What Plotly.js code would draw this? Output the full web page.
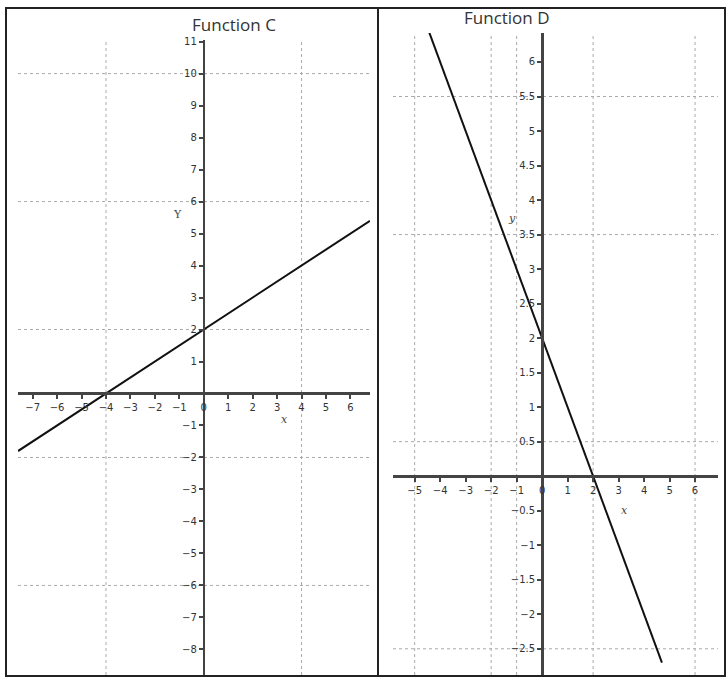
<!DOCTYPE html>
<html>
<head>
<meta charset="utf-8">
<script src="https://cdn.plot.ly/plotly-3.0.1.min.js"></script>
<style>
  html, body { margin: 0; padding: 0; background: #fff; }
  #chart { width: 728px; height: 677px; }
</style>
</head>
<body>
<div id="chart"></div>
<script>
// Function C: y = 0.5x + 2, end points
const cLineX = [-7.6, 6.8];
const cLineY = [-1.8, 5.4];
const cTickX = [-7, -6, -5, -4, -3, -2, -1, 0, 1, 2, 3, 4, 5, 6];
const cTickY = [-8, -7, -6, -5, -4, -3, -2, -1, 1, 2, 3, 4, 5, 6, 7, 8, 9, 10, 11];
const cGridX = [-4, 4];
const cGridY = [10, 6, 2, -2, -6];

// Function D: y = -x + 2
const dLineX = [-4.5, 4.7];
const dLineY = [6.5, -2.7];
const dTickX = [-5, -4, -3, -2, -1, 0, 1, 2, 3, 4, 5, 6];
const dTickY = [-2.5, -2, -1.5, -1, -0.5, 0.5, 1, 1.5, 2, 2.5, 3, 3.5, 4, 4.5, 5, 5.5, 6];
const dGridX = [-5, -2, -1, 2, 6];
const dGridY = [5.5, 3.5, 0.5, -2.5];

const W = 728, H = 677;

// panel geometry in pixels
const cBox = {x0: 18, x1: 370, top: 40, bottom: 675, xr: [-7.6, 6.8], yr: [-8.8, 11.05]};
const dBox = {x0: 393, x1: 718, top: 33, bottom: 675, xr: [-5.85, 6.9], yr: [-2.88, 6.42]};

function domX(b) { return [b.x0 / W, b.x1 / W]; }
function domY(b) { return [(H - b.bottom) / H, (H - b.top) / H]; }

// paper position of the zero of an axis, so the other axis crosses it there
function zeroPos(range, dom) {
    return dom[0] + (0 - range[0]) / (range[1] - range[0]) * (dom[1] - dom[0]);
}

const tickFont = {family: 'DejaVu Sans', size: 10, color: '#333'};

function xAxis(b, tickvals) {
    return {
        domain: domX(b), range: b.xr, anchor: 'free',
        position: zeroPos(b.yr, domY(b)),
        tickmode: 'array', tickvals: tickvals,
        showgrid: false, zeroline: false,
        showline: true, linecolor: '#444', linewidth: 2.5,
        ticks: 'outside', ticklen: 4, tickwidth: 2, tickcolor: '#444',
        tickfont: tickFont, fixedrange: true
    };
}

function yAxis(b, tickvals) {
    return {
        domain: domY(b), range: b.yr, anchor: 'free',
        position: zeroPos(b.xr, domX(b)),
        tickmode: 'array', tickvals: tickvals,
        showgrid: false, zeroline: false,
        showline: true, linecolor: '#444', linewidth: 2.5,
        ticks: 'outside', ticklen: 4, tickwidth: 2, tickcolor: '#444',
        tickfont: tickFont, fixedrange: true
    };
}

function gridShapes(xs, ys, xref, yref) {
    const grid = {color: '#aaa', width: 1, dash: 'dot'};
    const out = [];
    xs.forEach(v => out.push({type: 'line', xref: xref, yref: yref + ' domain',
        x0: v, x1: v, y0: 0, y1: 1, line: grid, layer: 'below'}));
    ys.forEach(v => out.push({type: 'line', xref: xref + ' domain', yref: yref,
        x0: 0, x1: 1, y0: v, y1: v, line: grid, layer: 'below'}));
    return out;
}

const traces = [
    {x: cLineX, y: cLineY, xaxis: 'x', yaxis: 'y', mode: 'lines',
        line: {color: '#111', width: 2}, hoverinfo: 'skip'},
    {x: dLineX, y: dLineY, xaxis: 'x2', yaxis: 'y2', mode: 'lines',
        line: {color: '#111', width: 2}, hoverinfo: 'skip'}
];

const frame = {color: '#222', width: 2};
const shapes = gridShapes(cGridX, cGridY, 'x', 'y')
    .concat(gridShapes(dGridX, dGridY, 'x2', 'y2'))
    .concat([
        {type: 'rect', xref: 'paper', yref: 'paper', x0: 6 / W, x1: 378 / W,
            y0: 1 / H, y1: (H - 8) / H, line: frame},
        {type: 'rect', xref: 'paper', yref: 'paper', x0: 378 / W, x1: 725 / W,
            y0: 1 / H, y1: (H - 8) / H, line: frame}
    ]);

const titleFont = {family: 'Open Sans', size: 17, color: '#333'};
const labelFont = {family: 'DejaVu Serif', size: 11, color: '#444'};

const annotations = [
    {text: 'Function C', xref: 'paper', yref: 'paper', x: 190 / W, y: (H - 24) / H,
        yanchor: 'middle', showarrow: false, font: titleFont},
    {text: 'Function D', xref: 'paper', yref: 'paper', x: 552 / W, y: (H - 18) / H,
        yanchor: 'middle', showarrow: false, font: titleFont},
    {text: 'Y', xref: 'x', yref: 'y', x: -1.06, y: 5.6, showarrow: false, font: labelFont},
    {text: '<i>x</i>', xref: 'x', yref: 'y', x: 3.3, y: -0.8, showarrow: false, font: labelFont},
    {text: '<i>y</i>', xref: 'x2', yref: 'y2', x: -1.18, y: 3.74, showarrow: false, font: labelFont},
    {text: '<i>x</i>', xref: 'x2', yref: 'y2', x: 3.25, y: -0.49, showarrow: false, font: labelFont}
];

const layout = {
    width: W, height: H,
    margin: {l: 0, r: 0, t: 0, b: 0, pad: 0},
    paper_bgcolor: '#fff', plot_bgcolor: 'rgba(0,0,0,0)',
    showlegend: false,
    xaxis: xAxis(cBox, cTickX),
    yaxis: yAxis(cBox, cTickY),
    xaxis2: xAxis(dBox, dTickX),
    yaxis2: yAxis(dBox, dTickY),
    shapes: shapes,
    annotations: annotations
};

Plotly.newPlot('chart', traces, layout, {displayModeBar: false, staticPlot: true});
</script>
</body>
</html>
